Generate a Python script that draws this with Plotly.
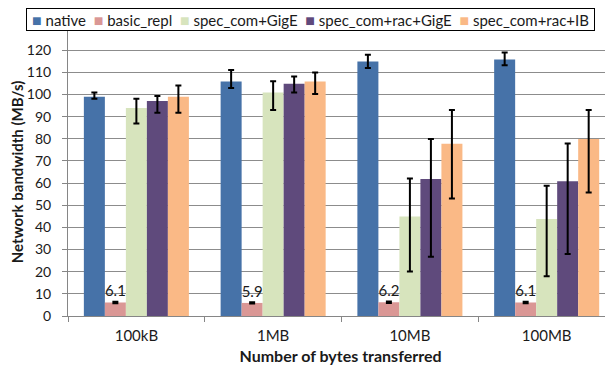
import plotly.graph_objects as go

categories = ["100kB", "1MB", "10MB", "100MB"]
series_names = ["native", "basic_repl", "spec_com+GigE", "spec_com+rac+GigE", "spec_com+rac+IB"]

native = [99.0, 105.9, 114.9, 115.8]
native_err_plus = [1.9, 5.1, 3.0, 3.1]
native_err_minus = [0.9, 3.0, 3.0, 2.6]

basic_repl = [6.1, 5.9, 6.2, 6.1]
basic_err_plus = [0.3, 0.3, 0.3, 0.3]
basic_err_minus = [0.3, 0.3, 0.3, 0.3]
basic_labels = ["6.1", "5.9", "6.2", "6.1"]

gige = [93.9, 100.9, 44.9, 43.8]
gige_err_plus = [4.2, 5.1, 17.2, 15.0]
gige_err_minus = [7.0, 7.9, 24.8, 25.9]

rac_gige = [97.0, 104.8, 61.8, 60.8]
rac_gige_err_plus = [2.3, 3.3, 18.1, 17.1]
rac_gige_err_minus = [5.3, 3.9, 35.0, 32.8]

rac_ib = [99.0, 105.9, 77.8, 79.9]
rac_ib_err_plus = [5.1, 4.0, 15.2, 13.1]
rac_ib_err_minus = [7.3, 5.7, 24.8, 24.1]

colors = ["#4672A8", "#DA9795", "#D7E4BD", "#5F4A7C", "#FAB986"]

y_ticks = list(range(0, 131, 10))
y_tick_labels = [str(v) for v in y_ticks[:-1]] + [""]

FONT = "Lato, 'Open Sans', sans-serif"

fig = go.Figure()

data = [
    (native, native_err_plus, native_err_minus, None),
    (basic_repl, basic_err_plus, basic_err_minus, basic_labels),
    (gige, gige_err_plus, gige_err_minus, None),
    (rac_gige, rac_gige_err_plus, rac_gige_err_minus, None),
    (rac_ib, rac_ib_err_plus, rac_ib_err_minus, None),
]

for name, color, (vals, ep, em, labels) in zip(series_names, colors, data):
    fig.add_trace(go.Bar(
        x=categories, y=vals, name=name,
        marker=dict(color=color, line=dict(width=0)),
        error_y=dict(type="data", symmetric=False, array=ep, arrayminus=em,
                     color="black", thickness=2, width=3),
        text=labels,
        textposition="outside" if labels else "none",
        textfont=dict(family=FONT, size=15, color="#1a1a1a"),
        cliponaxis=False,
        showlegend=False,
    ))

legend_parts = []
for name, color in zip(series_names, colors):
    legend_parts.append(
        f"<span style='color:{color};font-size:16px'>■</span>&nbsp;{name}")
legend_text = "&nbsp;&nbsp;".join(legend_parts)

fig.add_annotation(
    x=0.4452, y=1.0288, xref="paper", yref="paper",
    xanchor="center", yanchor="middle",
    text=legend_text, showarrow=False,
    font=dict(family=FONT, size=15, color="#1a1a1a"),
    bgcolor="white", bordercolor="black", borderwidth=1, borderpad=1,
    width=565, align="center",
)

# the page body adds an 8px offset, so the figure is sized to fill the rest of the window
fig.update_layout(
    width=605, height=359,
    margin=dict(l=60, r=0, t=20, b=51, pad=0),
    paper_bgcolor="white", plot_bgcolor="white",
    barmode="group", bargap=0.232, bargroupgap=0,
    font=dict(family=FONT, size=15, color="#1a1a1a"),
    xaxis=dict(
        range=[-0.5, 3.485], automargin=False,
        showline=True, linecolor="#868686", linewidth=1,
        ticks="outside", tickson="boundaries", ticklen=5, tickcolor="#868686",
        showgrid=False,
        tickfont=dict(family=FONT, size=15, color="#1a1a1a"),
        ticklabelstandoff=6,
        title=dict(text="<b>Number of bytes transferred</b>",
                   font=dict(family=FONT, size=16, color="#1a1a1a"), standoff=7),
    ),
    yaxis=dict(
        range=[0, 130], tickvals=y_ticks, ticktext=y_tick_labels, automargin=False,
        showline=True, linecolor="#868686", linewidth=1,
        ticks="outside", ticklen=5, tickcolor="#868686",
        showgrid=True, gridcolor="#8c8c8c", gridwidth=1,
        zeroline=False,
        tickfont=dict(family=FONT, size=14, color="#1a1a1a"),
        ticklabelstandoff=8,
        title=dict(text="<b>Network bandwidth (MB/s)</b>",
                   font=dict(family=FONT, size=15, color="#1a1a1a"), standoff=10),
    ),
)

fig.write_html("out.html")
